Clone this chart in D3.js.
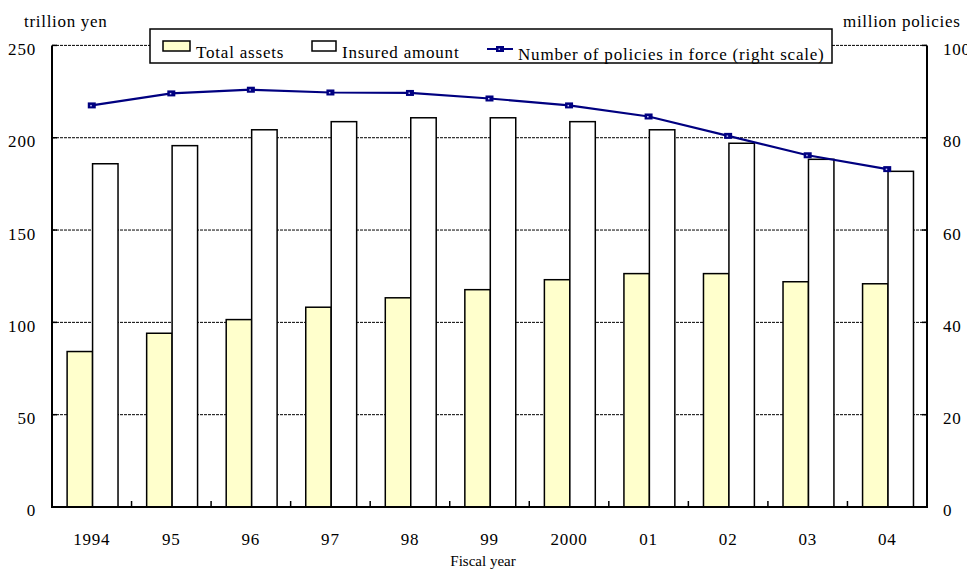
<!doctype html>
<meta charset="utf-8">
<script src="https://d3js.org/d3.v7.min.js"></script>
<style>
  body { margin: 0; background: #fff; }
  text { font-family: "Liberation Serif", "Times New Roman", serif; fill: #000; }
</style>
<body/>
<script>

var years = ["1994", "95", "96", "97", "98", "99", "2000", "01", "02", "03", "04"];
var totalAssets = [84.2, 94.1, 101.5, 108.2, 113.3, 117.7, 123.1, 126.4, 126.4, 122.0, 120.9];
var insuredAmount = [185.9, 195.7, 204.3, 208.7, 210.8, 210.8, 208.7, 204.3, 197.0, 188.3, 181.8];
var policies = [87.0, 89.6, 90.4, 89.8, 89.7, 88.5, 87.0, 84.6, 80.4, 76.2, 73.2];
var leftTicks = [0, 50, 100, 150, 200, 250];
var rightTicks = [0, 20, 40, 60, 80, 100];

var width = 967;
var height = 571;
var margin = {top: 45.4, right: 40, bottom: 64, left: 52};
var w = 927 - margin.left;
var h = 507 - margin.top;

var svg = d3.select("body")
        .append("svg")
        .attr("width", width)
        .attr("height", height);

var g = svg.append("g")
        .attr("transform", "translate(" + margin.left + "," + margin.top + ")");

var x0 = d3.scaleBand()
        .domain(years)
        .range([0, w]);

var x1 = d3.scaleBand()
        .domain(["assets", "insured"])
        .range([x0.bandwidth() * 0.19, x0.bandwidth() * 0.83]);

var y = d3.scaleLinear()
        .domain([0, 250])
        .range([h, 0]);

var y2 = d3.scaleLinear()
        .domain([0, 100])
        .range([h, 0]);

// grid lines (dashed), including the top border at 250
g.selectAll(".grid")
        .data(leftTicks.slice(1))
        .enter().append("line")
        .attr("x1", 0)
        .attr("x2", w)
        .attr("y1", function(d) { return y(d); })
        .attr("y2", function(d) { return y(d); })
        .style("stroke", "#000")
        .style("stroke-width", 1)
        .style("stroke-dasharray", "3,1");

// bars
var groups = g.selectAll(".year")
        .data(years)
        .enter().append("g")
        .attr("transform", function(d) { return "translate(" + x0(d) + ",0)"; });

groups.append("rect")
        .attr("x", x1("assets"))
        .attr("width", x1.bandwidth())
        .attr("y", function(d, i) { return y(totalAssets[i]); })
        .attr("height", function(d, i) { return h - y(totalAssets[i]); })
        .style("fill", "#ffffcc")
        .style("stroke", "#000")
        .style("stroke-width", 1.5);

groups.append("rect")
        .attr("x", x1("insured"))
        .attr("width", x1.bandwidth())
        .attr("y", function(d, i) { return y(insuredAmount[i]); })
        .attr("height", function(d, i) { return h - y(insuredAmount[i]); })
        .style("fill", "#fff")
        .style("stroke", "#000")
        .style("stroke-width", 1.5);

// axes frame
g.append("line").attr("x1", 0).attr("x2", 0).attr("y1", 0).attr("y2", h)
        .style("stroke", "#000").style("stroke-width", 2);
g.append("line").attr("x1", w).attr("x2", w).attr("y1", 0).attr("y2", h)
        .style("stroke", "#000").style("stroke-width", 2);
g.append("line").attr("x1", -1).attr("x2", w + 1).attr("y1", h).attr("y2", h)
        .style("stroke", "#000").style("stroke-width", 2);

// inner ticks on the y axes
g.selectAll(".ltick")
        .data(leftTicks)
        .enter().append("line")
        .attr("x1", 0).attr("x2", 5)
        .attr("y1", function(d) { return y(d); })
        .attr("y2", function(d) { return y(d); })
        .style("stroke", "#000").style("stroke-width", 1.5);

g.selectAll(".rtick")
        .data(rightTicks)
        .enter().append("line")
        .attr("x1", w - 5).attr("x2", w)
        .attr("y1", function(d) { return y2(d); })
        .attr("y2", function(d) { return y2(d); })
        .style("stroke", "#000").style("stroke-width", 1.5);

// x ticks between categories
g.selectAll(".xtick")
        .data(years.slice(1))
        .enter().append("line")
        .attr("x1", function(d) { return x0(d); })
        .attr("x2", function(d) { return x0(d); })
        .attr("y1", h)
        .attr("y2", h - 6)
        .style("stroke", "#000").style("stroke-width", 1.5);

// tick labels
g.selectAll(".ylab")
        .data(leftTicks)
        .enter().append("text")
        .attr("x", -16)
        .attr("y", function(d) { return y(d) + 4; })
        .attr("dominant-baseline", "central")
        .attr("text-anchor", "end")
        .style("font-size", "17px")
        .style("letter-spacing", "0.8px")
        .text(function(d) { return d; });

g.selectAll(".y2lab")
        .data(rightTicks)
        .enter().append("text")
        .attr("x", w + 16)
        .attr("y", function(d) { return y2(d) + 4; })
        .attr("dominant-baseline", "central")
        .style("font-size", "17px")
        .style("letter-spacing", "0.8px")
        .text(function(d) { return d; });

g.selectAll(".xlab")
        .data(years)
        .enter().append("text")
        .attr("x", function(d) { return x0(d) + x0.bandwidth() / 2; })
        .attr("y", 545 - margin.top)
        .attr("text-anchor", "middle")
        .style("font-size", "17px")
        .style("letter-spacing", "0.8px")
        .text(function(d) { return d; });

svg.append("text")
        .attr("x", 24).attr("y", 27)
        .style("font-size", "17px")
        .style("letter-spacing", "0.7px")
        .text("trillion yen");

svg.append("text")
        .attr("x", 843).attr("y", 27)
        .style("font-size", "17px")
        .style("letter-spacing", "0.7px")
        .text("million policies");

svg.append("text")
        .attr("x", 483).attr("y", 566)
        .attr("text-anchor", "middle")
        .style("font-size", "15px")
        .text("Fiscal year");

// line for number of policies
var line = d3.line()
        .x(function(d, i) { return x0(years[i]) + x0.bandwidth() / 2; })
        .y(function(d) { return y2(d); });

g.append("path")
        .datum(policies)
        .attr("d", line)
        .style("fill", "none")
        .style("stroke", "#000080")
        .style("stroke-width", 2.2);

function marker(sel) {
    sel.append("rect")
            .attr("x", -4).attr("y", -3)
            .attr("width", 8).attr("height", 6)
            .style("fill", "#000080");
    sel.append("rect")
            .attr("x", -1.5).attr("y", -0.5)
            .attr("width", 1.5).attr("height", 1.5)
            .style("fill", "#c8c8ff");
}

g.selectAll(".pt")
        .data(policies)
        .enter().append("g")
        .attr("transform", function(d, i) {
            return "translate(" + (x0(years[i]) + x0.bandwidth() / 2) + "," + y2(d) + ")";
        })
        .call(marker);

// legend
var legend = svg.append("g");

legend.append("rect")
        .attr("x", 150).attr("y", 29)
        .attr("width", 682).attr("height", 34)
        .style("fill", "#fff")
        .style("stroke", "#000")
        .style("stroke-width", 1.5);

legend.append("rect")
        .attr("x", 163).attr("y", 41)
        .attr("width", 27).attr("height", 10)
        .style("fill", "#ffffcc")
        .style("stroke", "#000")
        .style("stroke-width", 1.5);

legend.append("text")
        .attr("x", 196).attr("y", 58)
        .style("font-size", "17px")
        .style("letter-spacing", "0.8px")
        .text("Total assets");

legend.append("rect")
        .attr("x", 312).attr("y", 41)
        .attr("width", 24).attr("height", 10)
        .style("fill", "#fff")
        .style("stroke", "#000")
        .style("stroke-width", 1.5);

legend.append("text")
        .attr("x", 342).attr("y", 58)
        .style("font-size", "17px")
        .style("letter-spacing", "0.8px")
        .text("Insured amount");

legend.append("line")
        .attr("x1", 487).attr("x2", 513)
        .attr("y1", 49).attr("y2", 49)
        .style("stroke", "#000080")
        .style("stroke-width", 2);

legend.append("g")
        .attr("transform", "translate(500,49)")
        .call(marker);

legend.append("text")
        .attr("x", 518).attr("y", 60)
        .style("font-size", "17px")
        .style("letter-spacing", "0.8px")
        .text("Number of policies in force (right scale)");

</script>
